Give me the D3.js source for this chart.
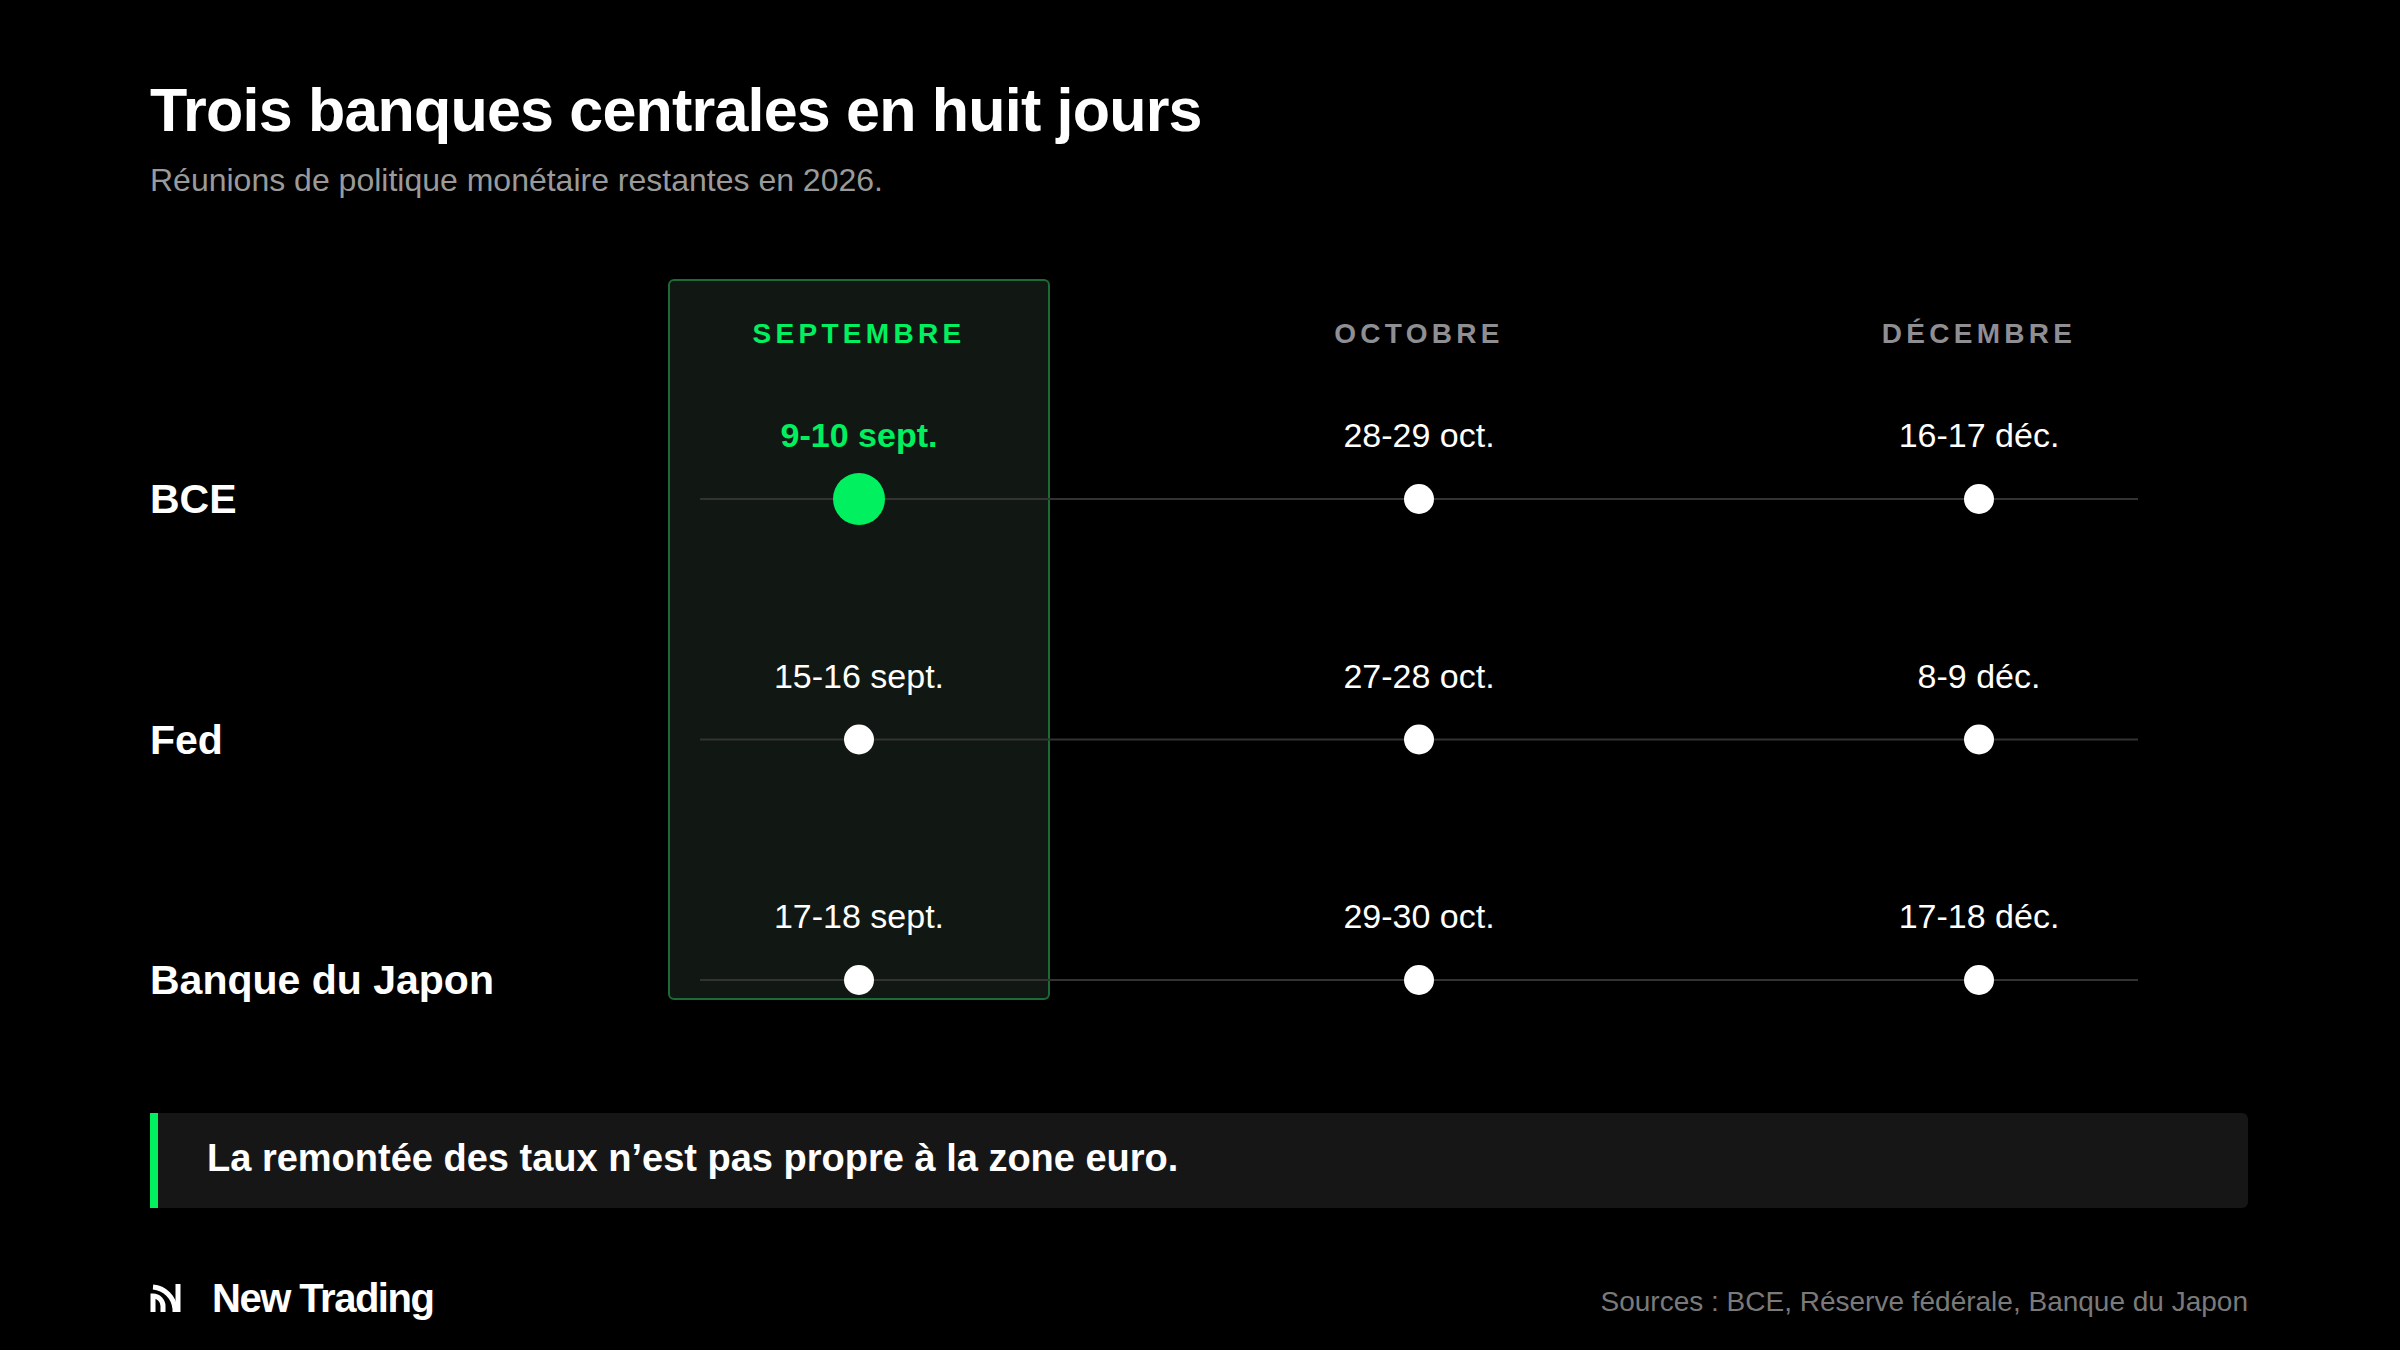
<!DOCTYPE html>
<html><head><meta charset="utf-8">
<script src="https://cdn.jsdelivr.net/npm/d3@7"></script>
<style>body{margin:0;background:#000}svg{display:block}text{font-family:"Liberation Sans",Arial,sans-serif}</style>
</head><body><div id="chart"></div>
<script>
const months = ["SEPTEMBRE", "OCTOBRE", "DÉCEMBRE"];
const banks = ["BCE", "Fed", "Banque du Japon"];
const dates = [
  ["9-10 sept.", "28-29 oct.", "16-17 déc."],
  ["15-16 sept.", "27-28 oct.", "8-9 déc."],
  ["17-18 sept.", "29-30 oct.", "17-18 déc."]
];
const highlightMonth = 0, highlightBank = 0;

const W = 2400, H = 1350, green = "#00f060";
const svg = d3.select("#chart").append("svg").attr("width", W).attr("height", H);
svg.append("rect").attr("width", W).attr("height", H).attr("fill", "#000");

svg.append("text").attr("x", 150).attr("y", 131).attr("fill", "#fff")
  .attr("font-size", 61).attr("font-weight", "bold").attr("letter-spacing", -0.8)
  .text("Trois banques centrales en huit jours");
svg.append("text").attr("x", 150).attr("y", 191).attr("fill", "#9a9a9a")
  .attr("font-size", 32).text("Réunions de politique monétaire restantes en 2026.");

const x = d3.scalePoint().domain(months).range([859, 1979]);
const y = d3.scalePoint().domain(banks).range([499, 980]);
const colW = 380;

svg.append("rect").attr("x", x(months[highlightMonth]) - colW / 2).attr("y", 280)
  .attr("width", colW).attr("height", 719).attr("rx", 5)
  .attr("fill", "#111813").attr("stroke", "#1c6b34").attr("stroke-width", 2);

svg.selectAll(".month").data(months).join("text")
  .attr("x", d => x(d)).attr("y", 343).attr("text-anchor", "middle")
  .attr("font-size", 28).attr("font-weight", "bold").attr("letter-spacing", 4.3)
  .attr("fill", (d, i) => i === highlightMonth ? green : "#8e8e93").text(d => d);

banks.forEach((b, bi) => {
  svg.append("line").attr("x1", 700).attr("x2", 2138).attr("y1", y(b)).attr("y2", y(b))
    .attr("stroke", "#333").attr("stroke-width", 2);
  svg.append("text").attr("x", 150).attr("y", y(b) + 14).attr("fill", "#fff")
    .attr("font-size", 41).attr("font-weight", "bold").text(b);
  months.forEach((m, mi) => {
    const hi = bi === highlightBank && mi === highlightMonth;
    svg.append("text").attr("x", x(m)).attr("y", y(b) - 52).attr("text-anchor", "middle")
      .attr("font-size", 34).attr("font-weight", hi ? "bold" : "normal")
      .attr("fill", hi ? green : "#fff").text(dates[bi][mi]);
    svg.append("circle").attr("cx", x(m)).attr("cy", y(b)).attr("r", hi ? 26 : 15)
      .attr("fill", hi ? green : "#fff");
  });
});

svg.append("rect").attr("x", 150).attr("y", 1113).attr("width", 2098).attr("height", 95)
  .attr("rx", 6).attr("fill", "#161616");
svg.append("rect").attr("x", 150).attr("y", 1113).attr("width", 8).attr("height", 95).attr("fill", green);
svg.append("text").attr("x", 207).attr("y", 1171).attr("fill", "#fff")
  .attr("font-size", 38).attr("font-weight", "bold")
  .text("La remontée des taux n’est pas propre à la zone euro.");

// logo
const lg = svg.append("g").attr("transform", "translate(150,1284)").attr("fill", "none")
  .attr("stroke", "#fff").attr("stroke-width", 5);
lg.append("path").attr("d", "M3,28 L3,12 A10,10 0 0 1 13,22 L13,28");
lg.append("path").attr("d", "M3,3 A24,24 0 0 1 25,25 L25,28");
lg.append("path").attr("d", "M28,0 L28,28");
svg.append("text").attr("x", 212).attr("y", 1312).attr("fill", "#fff")
  .attr("font-size", 40).attr("font-weight", "bold").attr("letter-spacing", -1.5).text("New Trading");
svg.append("text").attr("x", 2248).attr("y", 1311).attr("text-anchor", "end").attr("fill", "#7a7a7a")
  .attr("font-size", 28).text("Sources : BCE, Réserve fédérale, Banque du Japon");
</script></body></html>
